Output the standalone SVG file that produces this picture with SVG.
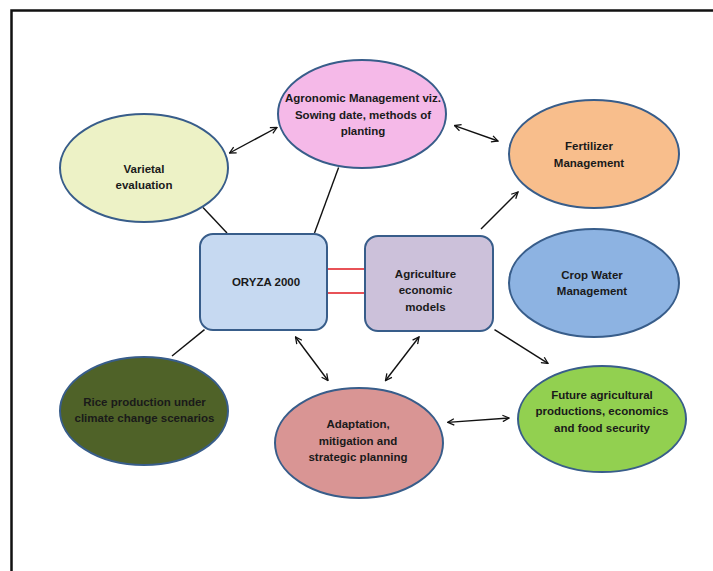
<svg xmlns="http://www.w3.org/2000/svg" width="713" height="571" viewBox="0 0 713 571">
<style>
.node{stroke:#385D8A;stroke-width:2}
.t{font-family:"Liberation Sans",Arial,sans-serif;font-weight:bold;font-size:11.5px;fill:#1a1a1a;text-anchor:middle}
.c{stroke:#111;stroke-width:1.4;fill:none}
.r{stroke:#E0191F;stroke-width:1.6;fill:none}
</style>
<defs>
<marker id="ah" viewBox="0 0 10 10" refX="9" refY="5" markerWidth="8" markerHeight="8" orient="auto-start-reverse" markerUnits="userSpaceOnUse">
<path d="M1,1 L9,5 L1,9" fill="none" stroke="#111" stroke-width="1.6"/>
</marker>
</defs>
<rect width="713" height="571" fill="#fff"/>
<path d="M11.5,571 V10.5 H713" fill="none" stroke="#111" stroke-width="2.5"/>
<g id="connectors">
<line class="c" x1="229.5" y1="153" x2="277" y2="127.5" marker-start="url(#ah)" marker-end="url(#ah)"/>
<line class="c" x1="454.5" y1="125.6" x2="498" y2="141" marker-start="url(#ah)" marker-end="url(#ah)"/>
<line class="c" x1="203" y1="207.6" x2="227" y2="233"/>
<line class="c" x1="338.6" y1="167.5" x2="314.5" y2="233"/>
<line class="c" x1="481" y1="229" x2="518" y2="192" marker-end="url(#ah)"/>
<line class="c" x1="204.5" y1="329.6" x2="172" y2="356"/>
<line class="c" x1="295.5" y1="337" x2="328" y2="380.5" marker-start="url(#ah)" marker-end="url(#ah)"/>
<line class="c" x1="419" y1="337" x2="385.5" y2="380.5" marker-start="url(#ah)" marker-end="url(#ah)"/>
<line class="c" x1="494.5" y1="329.6" x2="548" y2="363.4" marker-end="url(#ah)"/>
<line class="c" x1="447.7" y1="422.4" x2="509" y2="418" marker-start="url(#ah)" marker-end="url(#ah)"/>
<line class="r" x1="327" y1="269" x2="366" y2="269"/>
<line class="r" x1="327" y1="293" x2="366" y2="293"/>
</g>
<g id="agronomic">
<ellipse class="node" cx="362" cy="114" rx="84" ry="54" fill="#F5B9E8"/>
<text class="t" x="363" y="102">Agronomic Management viz.</text>
<text class="t" x="363" y="118.5">Sowing date, methods of</text>
<text class="t" x="363" y="135">planting</text>
</g>
<g id="varietal">
<ellipse class="node" cx="144" cy="168" rx="84" ry="54" fill="#EDF2C6"/>
<text class="t" x="144" y="172.5">Varietal</text>
<text class="t" x="144" y="189">evaluation</text>
</g>
<g id="fertilizer">
<ellipse class="node" cx="594" cy="154" rx="85" ry="54" fill="#F8BE8C"/>
<text class="t" x="589" y="150">Fertilizer</text>
<text class="t" x="589" y="166.5">Management</text>
</g>
<g id="cropwater">
<ellipse class="node" cx="594" cy="283" rx="85" ry="54" fill="#8DB3E2"/>
<text class="t" x="592" y="278.5">Crop Water</text>
<text class="t" x="592" y="295">Management</text>
</g>
<g id="oryza">
<rect class="node" x="200" y="234" width="127" height="96" rx="13" fill="#C6D9F1"/>
<text class="t" x="266" y="286">ORYZA 2000</text>
</g>
<g id="agrieco">
<rect class="node" x="365" y="236" width="128" height="95" rx="13" fill="#CCC1DA"/>
<text class="t" x="425.5" y="277.5">Agriculture</text>
<text class="t" x="425.5" y="294">economic</text>
<text class="t" x="425.5" y="310.5">models</text>
</g>
<g id="rice">
<ellipse class="node" cx="144" cy="411" rx="84" ry="54" fill="#4F6228"/>
<text class="t" x="144.5" y="405.5">Rice production  under</text>
<text class="t" x="144.5" y="422">climate change scenarios</text>
</g>
<g id="adaptation">
<ellipse class="node" cx="359" cy="443" rx="84" ry="55" fill="#D99594"/>
<text class="t" x="358" y="428">Adaptation,</text>
<text class="t" x="358" y="444.5">mitigation and</text>
<text class="t" x="358" y="461">strategic planning</text>
</g>
<g id="future">
<ellipse class="node" cx="602" cy="419" rx="84" ry="53" fill="#92D050"/>
<text class="t" x="602" y="398.5">Future agricultural</text>
<text class="t" x="602" y="415">productions,  economics</text>
<text class="t" x="602" y="431.5">and food security</text>
</g>
</svg>
